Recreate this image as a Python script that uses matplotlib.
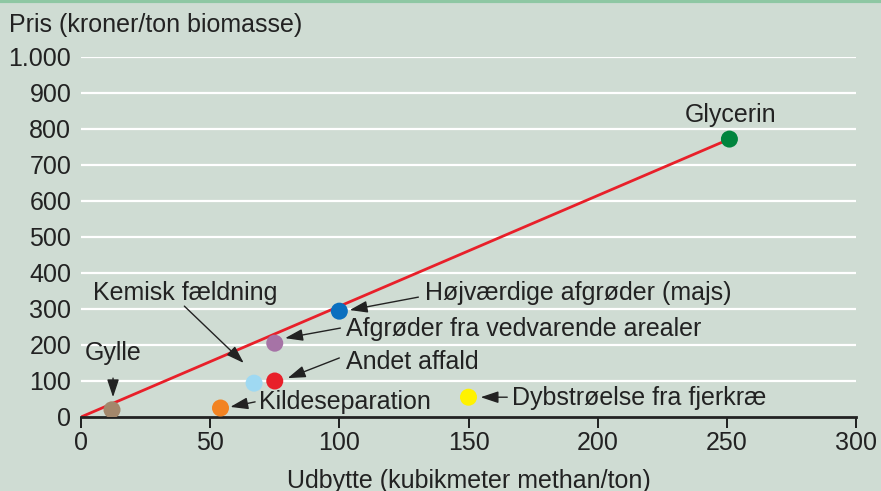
import matplotlib
matplotlib.use("Agg")
import matplotlib.pyplot as plt
from matplotlib.ticker import FuncFormatter

plt.rcParams['font.family'] = ['Liberation Sans', 'DejaVu Sans']
plt.rcParams['font.size'] = 18

# data
names = ["Gylle", "Kildeseparation", "Kemisk fældning", "Andet affald",
         "Afgrøder fra vedvarende arealer", "Højværdige afgrøder (majs)",
         "Dybstrøelse fra fjerkræ", "Glycerin"]
udbytte = [12, 54, 67, 75, 75, 100, 150, 251]
pris = [20, 25, 94, 100, 205, 294, 55, 772]
colors = ["#a3876b", "#f28322", "#9fd9f2", "#e8202a", "#a673a6", "#0a6fbf", "#fff200", "#00843d"]

line_x = [0, 251]
line_y = [0, 772]

x_ticks = [0, 50, 100, 150, 200, 250, 300]
y_ticks = [0, 100, 200, 300, 400, 500, 600, 700, 800, 900, 1000]

bg = "#cfdcd3"
ink = "#222222"
fs = 18
fig = plt.figure(figsize=(8.81, 4.91), dpi=100, facecolor=bg)
ax = fig.add_axes([81 / 881, 74 / 491, 775 / 881, 360 / 491])
ax.set_facecolor(bg)

# top border
fig.add_artist(plt.Line2D([0, 1], [0.997, 0.997], color="#8ec7a3", lw=3, transform=fig.transFigure))

for yv in y_ticks[1:]:
    ax.axhline(yv, color="white", lw=1.6, zorder=1)

ax.plot(line_x, line_y, color="#e8202a", lw=2, zorder=2, solid_capstyle="butt")
ax.scatter(udbytte, pris, s=150, c=colors, zorder=3, linewidths=0)

ax.set_xlim(0, 300)
ax.set_ylim(0, 1000)
ax.set_xticks(x_ticks)
ax.set_yticks(y_ticks)
ax.yaxis.set_major_formatter(FuncFormatter(lambda v, p: f"{int(v):,}".replace(",", ".")))
ax.tick_params(axis="y", length=0, pad=7, labelcolor=ink, labelsize=fs)
ax.tick_params(axis="x", length=8, width=1.2, pad=2, labelcolor=ink, labelsize=fs)
for s in ["left", "right", "top"]:
    ax.spines[s].set_visible(False)
ax.spines["bottom"].set_linewidth(2)
ax.spines["bottom"].set_color(ink)

ax.set_xlabel("Udbytte (kubikmeter methan/ton)", color=ink, fontsize=fs, labelpad=10)
fig.text(9 / 881, 1 - 25 / 491, "Pris (kroner/ton biomasse)", ha="left", va="center",
         color=ink, fontsize=fs)

arrow = dict(arrowstyle="-|>,head_length=0.6,head_width=0.2", color=ink, lw=1.0,
             shrinkA=0, shrinkB=0)
txt = dict(annotation_clip=False)

ax.text(251.5, 839, "Glycerin", ha="center", va="center", color=ink, fontsize=fs)
ax.text(133, 344, "Højværdige afgrøder (majs)", ha="left", va="center", color=ink, fontsize=fs)
ax.annotate("", xy=(104, 297), xytext=(130.6, 333), arrowprops=arrow, **txt)
ax.text(102.7, 244, "Afgrøder fra vedvarende arealer", ha="left", va="center", color=ink, fontsize=fs)
ax.annotate("", xy=(79, 219), xytext=(100.4, 247), arrowprops=arrow, **txt)
ax.text(102.7, 153, "Andet affald", ha="left", va="center", color=ink, fontsize=fs)
ax.annotate("", xy=(80, 108), xytext=(100, 164), arrowprops=arrow, **txt)
ax.text(69, 42, "Kildeseparation", ha="left", va="center", color=ink, fontsize=fs)
ax.annotate("", xy=(57.8, 28), xytext=(67.4, 42), arrowprops=arrow, **txt)
ax.text(40.3, 344, "Kemisk fældning", ha="center", va="center", color=ink, fontsize=fs)
ax.annotate("", xy=(63, 150), xytext=(40, 308), arrowprops=arrow, **txt)
ax.text(12.4, 178, "Gylle", ha="center", va="center", color=ink, fontsize=fs)
ax.annotate("", xy=(12.4, 55), xytext=(12.4, 108), arrowprops=arrow, **txt)
ax.text(167, 53, "Dybstrøelse fra fjerkræ", ha="left", va="center", color=ink, fontsize=fs)
ax.annotate("", xy=(154.7, 55), xytext=(165, 55), arrowprops=arrow, **txt)

fig.savefig("out.png", dpi=100, facecolor=bg)
